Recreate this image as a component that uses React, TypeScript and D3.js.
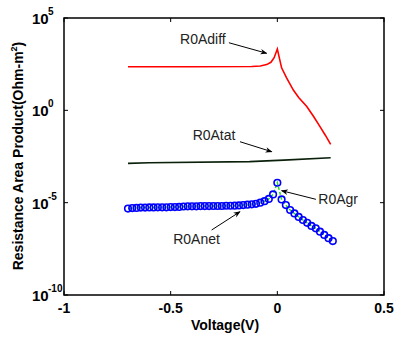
import React from "react";
import * as d3 from "d3";

// R0Anet (circles) and R0Agr (dashed green) sampled on the same voltages
const netVoltage = [
  -0.7, -0.68, -0.66, -0.64, -0.62, -0.6, -0.58, -0.56, -0.54, -0.52, -0.5, -0.48, -0.46, -0.44,
  -0.42, -0.4, -0.38, -0.36, -0.34, -0.32, -0.3, -0.28, -0.26, -0.24, -0.22, -0.2, -0.18, -0.16,
  -0.14, -0.12, -0.1, -0.08, -0.06, -0.04, -0.02, 0, 0.02, 0.04, 0.06, 0.08, 0.1, 0.12, 0.14,
  0.16, 0.18, 0.2, 0.22, 0.24, 0.26,
];
const netValues = [
  4.8e-6, 5.1e-6, 5.2e-6, 5.4e-6, 5.4e-6, 5.5e-6, 5.5e-6, 5.6e-6, 5.6e-6, 5.6e-6, 5.8e-6, 5.8e-6,
  5.9e-6, 6.2e-6, 6.3e-6, 6.3e-6, 6.3e-6, 6.5e-6, 6.5e-6, 6.5e-6, 6.6e-6, 6.6e-6, 6.6e-6, 6.8e-6,
  6.8e-6, 6.9e-6, 7.1e-6, 7.4e-6, 7.8e-6, 8.1e-6, 8.7e-6, 1.0e-5, 1.2e-5, 1.6e-5, 2.8e-5, 1.2e-4,
  1.5e-5, 7.4e-6, 4.0e-6, 2.6e-6, 1.7e-6, 1.15e-6, 8.1e-7, 5.5e-7, 4.1e-7, 2.7e-7, 1.8e-7,
  1.2e-7, 8.3e-8,
];
const grValues = netValues;

// R0Adiff (red)
const diffVoltage = [
  -0.7, -0.4, -0.12, -0.08, -0.05, -0.03, -0.015, 0, 0.02, 0.044, 0.075, 0.1, 0.138, 0.17, 0.2,
  0.225, 0.25,
];
const diffValues = [
  230, 230, 235, 250, 300, 400, 710, 2100, 200, 56, 12.6, 5, 1.6, 0.46, 0.13, 0.045, 0.0145,
];

// R0Atat (black)
const tatVoltage = [-0.7, -0.6, -0.13, 0.03, 0.25];
const tatValues = [1.35e-3, 1.45e-3, 1.66e-3, 2.0e-3, 2.7e-3];

const xTicks = [-1, -0.5, 0, 0.5];
const xTickLabels = ["-1", "-0.5", "0", "0.5"];
const yTicks = [1e-10, 1e-5, 1e0, 1e5];
const yTickExps = ["-10", "-5", "0", "5"];

const W = 394;
const H = 337;
const plot = { left: 64, right: 384, top: 18, bottom: 295 };
const FONT = "Arial, 'Liberation Sans', sans-serif";

export default function App() {
  const x = d3.scaleLinear().domain([-1, 0.5]).range([plot.left, plot.right]);
  const y = d3.scaleLog().domain([1e-10, 1e5]).range([plot.bottom, plot.top]);

  const line = d3
    .line<[number, number]>()
    .x((d) => x(d[0]))
    .y((d) => y(d[1]));

  const diffPts = diffVoltage.map((v, i) => [v, diffValues[i]] as [number, number]);
  const tatPts = tatVoltage.map((v, i) => [v, tatValues[i]] as [number, number]);
  const grPts = netVoltage.map((v, i) => [v, grValues[i]] as [number, number]);
  const netPts = netVoltage.map((v, i) => [v, netValues[i]] as [number, number]);

  const tick = 4;

  // annotations: text position + arrow start/end in data coords
  const notes = [
    { label: "R0Adiff", tx: -0.456, ty: 10 ** 3.81, from: [-0.227, 10 ** 3.66], to: [-0.05, 10 ** 3.09] },
    { label: "R0Atat", tx: -0.397, ty: 10 ** -1.43, from: [-0.175, 10 ** -1.7], to: [-0.026, 10 ** -2.24] },
    { label: "R0Agr", tx: 0.192, ty: 10 ** -4.86, from: [0.181, 10 ** -4.82], to: [0.02, 10 ** -4.35] },
    { label: "R0Anet", tx: -0.488, ty: 10 ** -7.02, from: [-0.308, 10 ** -6.48], to: [-0.175, 10 ** -5.49] },
  ];

  return (
    <svg
      width={W}
      height={H}
      style={{ position: "absolute", left: 0, top: 0, background: "#fff" }}
      fontFamily={FONT}
    >
      <defs>
        <marker id="arrow" viewBox="0 0 10 10" refX="9" refY="5" markerWidth="7" markerHeight="7" orient="auto">
          <path d="M0,1 L10,5 L0,9 L3,5 Z" fill="#000" />
        </marker>
      </defs>
      <rect x={0} y={0} width={W} height={H} fill="#fff" />

      {/* ticks */}
      {xTicks.map((t) => (
        <g key={"xt" + t}>
          <line x1={x(t)} x2={x(t)} y1={plot.bottom} y2={plot.bottom - tick} stroke="#000" />
          <line x1={x(t)} x2={x(t)} y1={plot.top} y2={plot.top + tick} stroke="#000" />
        </g>
      ))}
      {yTicks.map((t) => (
        <g key={"yt" + t}>
          <line x1={plot.left} x2={plot.left + tick} y1={y(t)} y2={y(t)} stroke="#000" />
          <line x1={plot.right} x2={plot.right - tick} y1={y(t)} y2={y(t)} stroke="#000" />
        </g>
      ))}

      {/* series */}
      <path d={line(diffPts) || ""} fill="none" stroke="#ff0000" strokeWidth={1.6} />
      <path d={line(tatPts) || ""} fill="none" stroke="#0b200b" strokeWidth={1.6} />
      <path d={line(grPts) || ""} fill="none" stroke="#22dd22" strokeWidth={1.5} strokeDasharray="3 2" />
      {netPts.map((p, i) => (
        <circle key={"n" + i} cx={x(p[0])} cy={y(p[1])} r={3.3} fill="none" stroke="#0000ff" strokeWidth={1.6} />
      ))}

      {/* annotations */}
      {notes.map((n) => (
        <g key={n.label}>
          <text x={x(n.tx)} y={y(n.ty)} fontSize={14} fill="#222" dominantBaseline="middle">
            {n.label}
          </text>
          <line
            x1={x(n.from[0])}
            y1={y(n.from[1])}
            x2={x(n.to[0])}
            y2={y(n.to[1])}
            stroke="#000"
            strokeWidth={1}
            markerEnd="url(#arrow)"
          />
        </g>
      ))}

      {/* frame */}
      <rect
        x={plot.left}
        y={plot.top}
        width={plot.right - plot.left}
        height={plot.bottom - plot.top}
        fill="none"
        stroke="#000"
        strokeWidth={1.5}
      />

      {/* x tick labels */}
      {xTicks.map((t, i) => (
        <text key={"xl" + t} x={x(t)} y={313} fontSize={14} fontWeight="bold" textAnchor="middle">
          {xTickLabels[i]}
        </text>
      ))}
      {/* y tick labels */}
      {yTicks.map((t, i) => (
        <text key={"yl" + t} x={32} y={y(t) + 6} fontSize={15} fontWeight="bold">
          10
          <tspan x={48} dy={-9} fontSize={10}>
            {yTickExps[i]}
          </tspan>
        </text>
      ))}

      {/* axis labels */}
      <text x={225} y={330} fontSize={14} fontWeight="bold" textAnchor="middle">
        Voltage(V)
      </text>
      <text transform={`translate(23,156) rotate(-90)`} fontSize={14} fontWeight="bold" textAnchor="middle">
        Resistance Area Product(Ohm-m
        <tspan dy={-6} fontSize={9}>
          2
        </tspan>
        <tspan dy={6}>)</tspan>
      </text>
    </svg>
  );
}
